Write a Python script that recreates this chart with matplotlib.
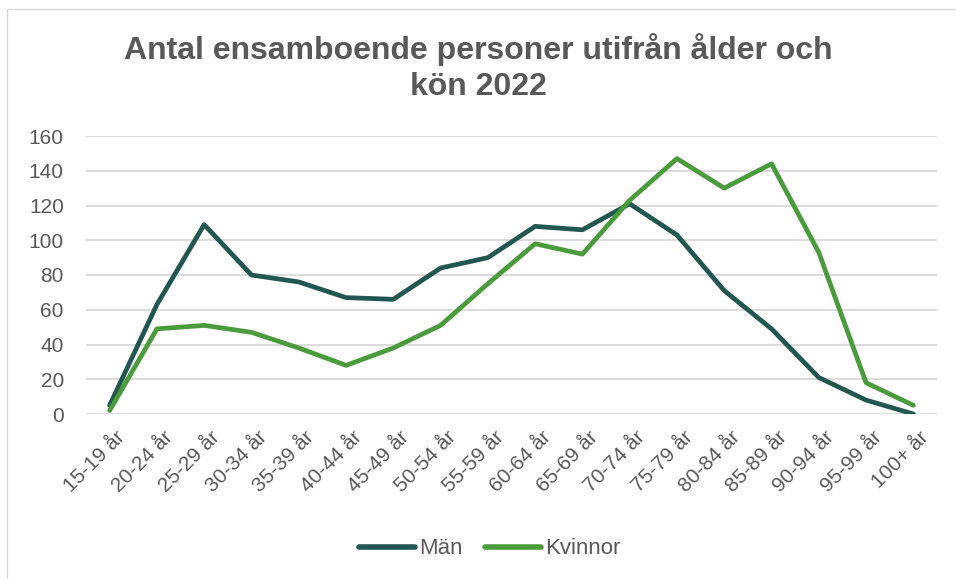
import matplotlib.pyplot as plt
import matplotlib.transforms as mtransforms
from matplotlib.patches import Rectangle

# data
aldrar = ['15-19 år', '20-24 år', '25-29 år', '30-34 år', '35-39 år', '40-44 år',
          '45-49 år', '50-54 år', '55-59 år', '60-64 år', '65-69 år', '70-74 år',
          '75-79 år', '80-84 år', '85-89 år', '90-94 år', '95-99 år', '100+ år']
man = [5, 63, 109, 80, 76, 67, 66, 84, 90, 108, 106, 121, 103, 71, 49, 21, 8, 0]
kvinnor = [2, 49, 51, 47, 38, 28, 38, 51, 75, 98, 92, 123, 147, 130, 144, 93, 18, 5]
yticks = [0, 20, 40, 60, 80, 100, 120, 140, 160]

plt.rcParams['font.family'] = ['Liberation Sans', 'DejaVu Sans']
grey = '#595959'

fig = plt.figure(figsize=(9.56, 5.79), dpi=100)
ax = fig.add_axes([86 / 956, 1 - 414 / 579, (937 - 86) / 956, (414 - 136) / 579])

x = list(range(len(aldrar)))
ax.plot(x, man, color='#215651', linewidth=3.4, label='Män', solid_capstyle='round')
ax.plot(x, kvinnor, color='#4A9B3B', linewidth=3.4, label='Kvinnor', solid_capstyle='round')

ax.set_xlim(-0.5, len(aldrar) - 0.5)
ax.set_ylim(0, 160)
ax.set_yticks(yticks)
ax.set_xticks(x)
ax.set_xticklabels(aldrar, rotation=45, ha='right', rotation_mode='anchor')
ax.tick_params(axis='both', length=0, labelsize=15, labelcolor=grey)
ax.tick_params(axis='y', pad=16)
ax.tick_params(axis='x', pad=10)
# skjut etiketterna lite åt höger
shift = mtransforms.ScaledTranslation(6 / 100, 0, fig.dpi_scale_trans)
for lab in ax.get_xticklabels():
    lab.set_transform(lab.get_transform() + shift)
ax.grid(axis='y', color='#D9D9D9', linewidth=1.3)
ax.set_axisbelow(True)
for s in ax.spines.values():
    s.set_visible(False)

fig.text(0.5, 1 - 49 / 579, 'Antal ensamboende personer utifrån ålder och',
         ha='center', va='center', fontsize=23, fontweight='bold', color=grey)
fig.text(0.5, 1 - 87 / 579, 'kön 2022',
         ha='center', va='center', fontsize=23, fontweight='bold', color=grey)

leg = fig.legend(loc='center', bbox_to_anchor=(490 / 956, 1 - 549 / 579), ncol=2, frameon=False,
                 fontsize=16, handlelength=2.5, handletextpad=0.2, columnspacing=1.0)
for t in leg.get_texts():
    t.set_color(grey)
for h in leg.get_lines():
    h.set_linewidth(4)

fig.patches.append(Rectangle((7 / 956, -0.1), 1.2, 1 - 9 / 579 + 0.1, transform=fig.transFigure,
                             fill=False, edgecolor='#D9D9D9', linewidth=1))

fig.savefig('out.png', dpi=100)
